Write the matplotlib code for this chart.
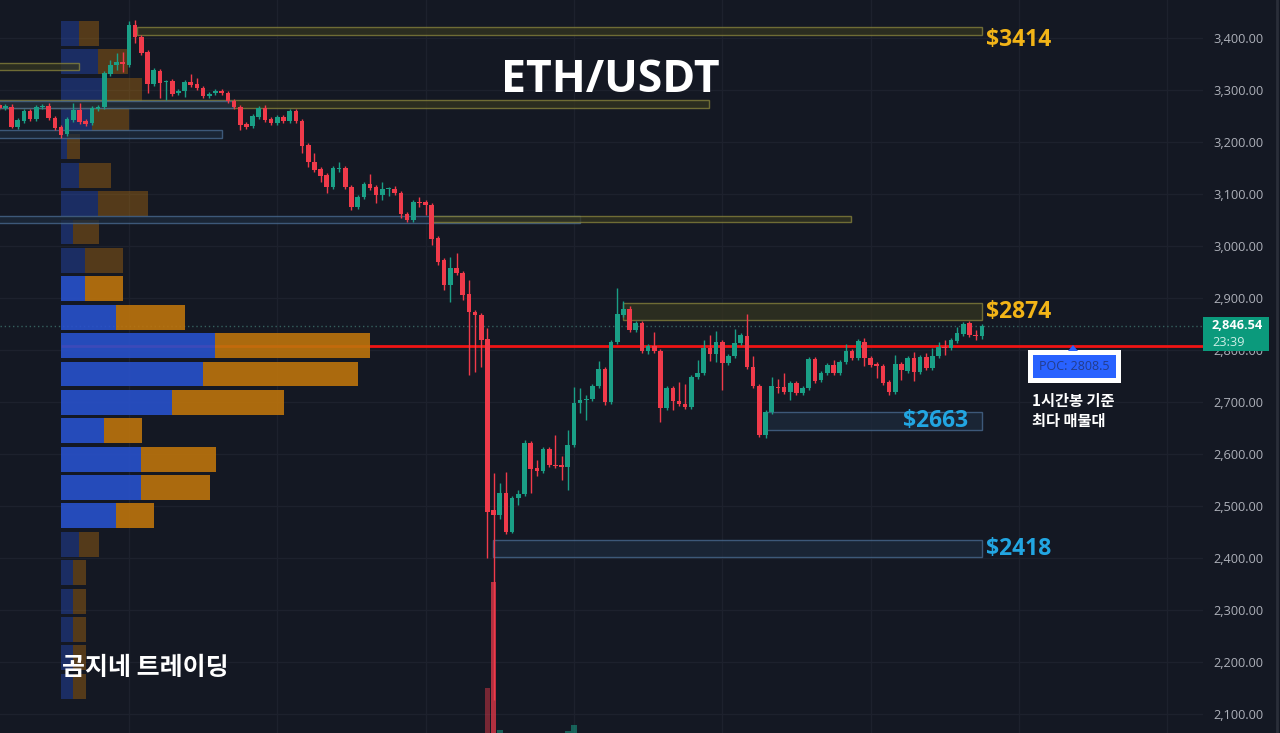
import numpy as np
import matplotlib
matplotlib.use("Agg")
import matplotlib.pyplot as plt
from matplotlib.patches import Rectangle, Polygon
from matplotlib.lines import Line2D

plt.rcParams["font.family"] = ["Open Sans", "Noto Sans CJK KR", "DejaVu Sans"]

# ---------------------------------------------------------------- data
# ETH/USDT, 1h candles (open, high, low, close)
opens = [3271, 3266, 3267, 3229, 3240, 3260, 3244, 3267, 3269, 3246,
         3229, 3215, 3242, 3261, 3240, 3236, 3263, 3267, 3331, 3348,
         3354, 3348, 3425, 3402, 3373, 3312, 3337, 3315, 3317, 3294,
         3298, 3315, 3312, 3304, 3288, 3294, 3298, 3294, 3279, 3267,
         3235, 3231, 3248, 3265, 3244, 3236, 3248, 3240, 3260, 3240,
         3194, 3162, 3148, 3137, 3113, 3148, 3150, 3113, 3075, 3094,
         3119, 3113, 3098, 3109, 3110, 3102, 3061, 3050, 3085, 3085,
         3079, 3015, 2973, 2925, 2958, 2948, 2908, 2873, 2867, 2821,
         2492, 2483, 2525, 2450, 2515, 2523, 2621, 2573, 2567, 2610,
         2579, 2578, 2575, 2617, 2698, 2704, 2706, 2731, 2764, 2700,
         2815, 2867, 2879, 2838, 2852, 2798, 2808, 2798, 2688, 2727,
         2702, 2696, 2690, 2748, 2756, 2804, 2792, 2815, 2775, 2788,
         2813, 2827, 2767, 2731, 2637, 2681, 2729, 2729, 2719, 2737,
         2717, 2727, 2783, 2742, 2756, 2771, 2756, 2777, 2798, 2785,
         2815, 2785, 2773, 2769, 2738, 2719, 2773, 2759, 2785, 2758,
         2787, 2765, 2788, 2806, 2804, 2817, 2831, 2852, 2829, 2826]
highs = [3275, 3273, 3273, 3246, 3264, 3263, 3271, 3273, 3275, 3250,
         3233, 3248, 3275, 3275, 3244, 3269, 3271, 3336, 3358, 3371,
         3373, 3433, 3435, 3406, 3377, 3343, 3341, 3320, 3321, 3302,
         3319, 3331, 3323, 3308, 3296, 3302, 3302, 3298, 3283, 3271,
         3239, 3254, 3269, 3271, 3248, 3252, 3252, 3264, 3264, 3244,
         3198, 3179, 3152, 3141, 3154, 3161, 3154, 3117, 3098, 3123,
         3138, 3117, 3123, 3113, 3115, 3106, 3065, 3089, 3094, 3089,
         3083, 3019, 2977, 2979, 2987, 2952, 2935, 2877, 2871, 2842,
         2564, 2544, 2565, 2519, 2530, 2627, 2625, 2588, 2614, 2614,
         2637, 2596, 2646, 2729, 2727, 2714, 2735, 2779, 2768, 2819,
         2919, 2894, 2884, 2856, 2856, 2812, 2835, 2802, 2731, 2731,
         2738, 2734, 2752, 2780, 2820, 2829, 2836, 2819, 2792, 2840,
         2833, 2869, 2788, 2735, 2685, 2748, 2744, 2756, 2741, 2741,
         2731, 2787, 2787, 2760, 2775, 2781, 2781, 2811, 2802, 2821,
         2823, 2789, 2777, 2773, 2742, 2790, 2777, 2789, 2796, 2791,
         2794, 2804, 2816, 2819, 2823, 2844, 2854, 2856, 2838, 2850]
lows = [3262, 3261, 3227, 3225, 3237, 3240, 3240, 3263, 3242, 3223,
        3208, 3211, 3238, 3234, 3230, 3232, 3260, 3263, 3327, 3338,
        3335, 3344, 3390, 3367, 3294, 3308, 3285, 3281, 3288, 3290,
        3286, 3306, 3300, 3284, 3285, 3290, 3290, 3275, 3263, 3223,
        3225, 3227, 3244, 3238, 3232, 3232, 3236, 3236, 3236, 3179,
        3152, 3142, 3123, 3102, 3109, 3142, 3109, 3069, 3071, 3090,
        3107, 3082, 3088, 3096, 3098, 3054, 3046, 3046, 3075, 3060,
        3002, 2963, 2915, 2892, 2944, 2896, 2752, 2758, 2767, 2400,
        2127, 2475, 2446, 2448, 2502, 2519, 2525, 2558, 2563, 2575,
        2573, 2550, 2530, 2613, 2679, 2665, 2702, 2727, 2694, 2696,
        2811, 2863, 2834, 2834, 2794, 2792, 2794, 2661, 2684, 2685,
        2692, 2686, 2686, 2744, 2752, 2779, 2777, 2723, 2771, 2784,
        2809, 2763, 2727, 2633, 2631, 2677, 2717, 2715, 2704, 2713,
        2713, 2723, 2736, 2738, 2752, 2752, 2752, 2773, 2781, 2781,
        2769, 2767, 2746, 2732, 2713, 2715, 2742, 2755, 2740, 2754,
        2761, 2761, 2784, 2790, 2800, 2813, 2827, 2825, 2819, 2822]
closes = [3265, 3268, 3229, 3242, 3260, 3244, 3267, 3269, 3246, 3227,
          3213, 3244, 3261, 3238, 3235, 3265, 3267, 3333, 3348, 3354,
          3350, 3425, 3402, 3371, 3312, 3339, 3314, 3317, 3292, 3298,
          3315, 3310, 3304, 3288, 3292, 3298, 3294, 3279, 3267, 3233,
          3229, 3250, 3265, 3242, 3236, 3248, 3240, 3260, 3240, 3192,
          3162, 3146, 3135, 3113, 3150, 3150, 3113, 3075, 3094, 3119,
          3111, 3098, 3110, 3110, 3102, 3061, 3050, 3085, 3083, 3079,
          3013, 2969, 2925, 2958, 2948, 2906, 2873, 2867, 2819, 2488,
          2483, 2525, 2450, 2515, 2523, 2621, 2571, 2567, 2610, 2579,
          2576, 2575, 2617, 2698, 2704, 2706, 2731, 2764, 2700, 2815,
          2869, 2879, 2838, 2852, 2798, 2808, 2798, 2688, 2727, 2702,
          2696, 2690, 2748, 2756, 2804, 2792, 2815, 2775, 2788, 2813,
          2829, 2767, 2731, 2637, 2681, 2731, 2727, 2719, 2737, 2717,
          2727, 2783, 2740, 2756, 2771, 2756, 2777, 2798, 2785, 2817,
          2785, 2771, 2769, 2736, 2719, 2773, 2761, 2785, 2758, 2787,
          2765, 2788, 2806, 2804, 2819, 2832, 2850, 2829, 2826, 2846.54]

# volume bars tall enough to reach into the price pane
vol_index = [79, 80, 81, 92, 93]
vol_value = [72, 178, 30, 29, 35]

# visible-range volume profile (top row = highest price), buy / sell
profile_buy = [18, 37, 46, 31, 6, 18, 37, 12, 24, 24, 55, 154,
               142, 111, 43, 80, 80, 55, 18, 12, 12, 12, 12, 12]
profile_sell = [20, 30, 35, 37, 13, 32, 50, 26, 38, 38, 69, 155,
                155, 112, 38, 75, 69, 38, 20, 13, 13, 13, 13, 13]
poc_price = 2808.5
row_step = 54.6
va_high, va_low = 2930, 2465

last_price = 2846.54
countdown = "23:39"

# supply (yellow) / demand (blue) zones: low, high, first bar, last bar
zones = [
    dict(lo=3406, hi=3422, x0=22.3, x1=159, kind="sell", label="$3414"),
    dict(lo=3339, hi=3352, x0=-3, x1=12.9, kind="sell", label=None),
    dict(lo=3265, hi=3281, x0=-3, x1=114.9, kind="sell", label=None),
    dict(lo=3266, hi=3279, x0=-3, x1=37.8, kind="buy", label=None),
    dict(lo=3208, hi=3223, x0=-3, x1=36.0, kind="buy", label=None),
    dict(lo=3044, hi=3058, x0=-3, x1=94.0, kind="buy", label=None),
    dict(lo=3046, hi=3058, x0=70.0, x1=137.8, kind="sell", label=None),
    dict(lo=2857, hi=2891, x0=100.9, x1=159, kind="sell", label="$2874"),
    dict(lo=2646, hi=2680, x0=124.1, x1=159, kind="buy", label="$2663"),
    dict(lo=2401, hi=2435, x0=79.9, x1=159, kind="buy", label="$2418"),
]

price_ticks = list(range(2100, 3401, 100))
session_starts = [21, 45, 69, 93, 117, 141, 165, 189]

# ---------------------------------------------------------------- style
BG = "#141823"
GRID = "#1d212d"
UP = "#1a9f86"
DOWN = "#f03a4a"
PROF_BLUE = "#2851cc"
PROF_ORANGE = "#bd740c"
SELL_EDGE = "#8a863c"
SELL_FILL = "#34351f"
BUY_EDGE = "#4a6d94"
BUY_FILL = "#1d2a3c"
GOLD = "#f2b417"
SKY = "#22a6e2"

W, H = 1280, 733
BAR_PX = 6.18          # horizontal distance between candles
FIRST_PX = -0.8        # centre of the first candle
CHART_R = 1203         # left edge of the price scale
Y_TOP, Y_BOT = 3473.1, 2063.4


def fx(px):
    return px / W


def fy(py):
    return 1 - py / H


def px_to_idx(px):
    return (px - FIRST_PX) / BAR_PX


xlim = (px_to_idx(0), px_to_idx(CHART_R))

fig = plt.figure(figsize=(12.8, 7.33), dpi=100, facecolor=BG)

# grid / reference lines at the very back
gax = fig.add_axes([0, 0, fx(CHART_R), 1])
gax.set_facecolor(BG)
gax.set_xlim(*xlim)
gax.set_ylim(Y_BOT, Y_TOP)
for p in price_ticks:
    gax.axhline(p, color=GRID, lw=1, zorder=0)
for s in session_starts:
    gax.axvline(s, color=GRID, lw=1, zorder=0)
gax.hlines(last_price, xlim[0], xlim[1], colors="#35605e", lw=1,
           linestyles=(0, (1, 2)), zorder=1)
gax.axis("off")

# volume profile
pax = fig.add_axes([fx(61), 0, fx(309), 1])
pax.set_facecolor("none")
pax.set_ylim(Y_BOT, Y_TOP)
pax.set_xlim(0, max(b + s for b, s in zip(profile_buy, profile_sell)))
n_rows = len(profile_buy)
levels = poc_price + row_step * (np.arange(n_rows)[::-1] - (n_rows - 1 - 11))
for lvl, b, s in zip(levels, profile_buy, profile_sell):
    inside = va_low <= lvl <= va_high
    a = 0.9 if inside else 0.38
    pax.barh(lvl, b, height=row_step * 0.875, color=PROF_BLUE, alpha=a, lw=0)
    pax.barh(lvl, s, left=b, height=row_step * 0.875, color=PROF_ORANGE,
             alpha=a, lw=0)
pax.axis("off")

# POC line sits under the profile bars
gax.hlines(poc_price, px_to_idx(61), xlim[1], colors="#f01414", lw=2, zorder=2)
pax.set_zorder(1)
gax.set_zorder(0)

# volume histogram (only the tallest bars reach into view)
vax = fig.add_axes([0, -27 / H, fx(CHART_R), 200 / H])
vax.set_facecolor("none")
vax.set_xlim(*xlim)
vax.set_ylim(0, 200)
vcols = []
for i in vol_index:
    vcols.append(UP if closes[i] >= opens[i] else DOWN)
valphas = [0.45, 0.72, 0.55, 0.55, 0.55]
for i, v, c, a in zip(vol_index, vol_value, vcols, valphas):
    vax.bar(i, v, width=0.92, color=c, alpha=a, lw=0)
vax.axis("off")
vax.set_zorder(2)

# main price pane
ax = fig.add_axes([0, 0, fx(CHART_R), 1])
ax.set_facecolor("none")
ax.set_zorder(3)
ax.set_xlim(*xlim)
ax.set_ylim(Y_BOT, Y_TOP)

label_shift = {"$3414": -9}
for z in zones:
    sell = z["kind"] == "sell"
    ax.add_patch(Rectangle((z["x0"], z["lo"]), z["x1"] - z["x0"],
                           z["hi"] - z["lo"],
                           facecolor=SELL_FILL if sell else BUY_FILL,
                           edgecolor=SELL_EDGE if sell else BUY_EDGE,
                           alpha=0.75, lw=1, zorder=1))
    if z["label"]:
        mid = (z["lo"] + z["hi"]) / 2
        inside = z["label"] == "$2663"
        ax.annotate(z["label"], (z["x1"], mid),
                    xytext=(-10 if inside else 3,
                            label_shift.get(z["label"], 0) * 0.72),
                    textcoords="offset points",
                    ha="right" if inside else "left", va="center",
                    fontsize=16.5, fontweight="bold",
                    color=GOLD if sell else SKY, zorder=4)

o = np.array(opens, float)
h = np.array(highs, float)
l = np.array(lows, float)
c = np.array(closes, float)
idx = np.arange(len(o))
cols = np.where(c >= o, UP, DOWN)
ax.vlines(idx, l, h, colors=cols, lw=1, zorder=2)
ax.bar(idx, np.maximum(np.abs(c - o), 2.5), bottom=np.minimum(o, c),
       width=0.75, color=cols, lw=0, zorder=3)

ax.set_xticks([])
ax.set_yticks(price_ticks)
ax.set_yticklabels([f"{p:,.2f}" for p in price_ticks])
ax.yaxis.tick_right()
ax.tick_params(axis="y", length=0, pad=7.5, labelsize=9.2,
               labelcolor="#adb0b9")
for sp in ax.spines.values():
    sp.set_visible(False)

# right edge of the price scale
fig.add_artist(Line2D([fx(1277), fx(1277)], [0, 1], color="#2a2e39", lw=2))

# last price tag
fig.add_artist(Rectangle((fx(1203), fy(351)), fx(66), 34 / H,
                         facecolor="#0b9a7c", edgecolor="none", zorder=5))
fig.text(fx(1212), fy(326), f"{last_price:,.2f}", ha="left", va="center",
         fontsize=9.2, fontweight="bold", color="white", zorder=6)
fig.text(fx(1212), fy(342), countdown, ha="left", va="center",
         fontsize=9.2, color="#cdeee6", zorder=6)

# POC tag under the line
fig.add_artist(Rectangle((fx(1028), fy(383)), fx(93), 33 / H,
                         facecolor="white", edgecolor="none", zorder=5))
fig.add_artist(Rectangle((fx(1033), fy(378)), fx(83), 23 / H,
                         facecolor="#2962ff", edgecolor="none", zorder=6))
fig.add_artist(Polygon([[fx(1068), fy(351)], [fx(1078), fy(351)],
                        [fx(1073), fy(345)]], closed=True,
                       facecolor="#2962ff", edgecolor="none", zorder=6))
fig.text(fx(1074.5), fy(367), f"POC: {poc_price}", ha="center", va="center",
         fontsize=9, color="#233c8c", zorder=7)

fig.text(fx(1032), fy(401), "1시간봉 기준", ha="left", va="center",
         fontsize=11, fontweight="bold", color="white",
         family=["Noto Sans CJK KR", "DejaVu Sans"])
fig.text(fx(1032), fy(421), "최다 매물대", ha="left", va="center",
         fontsize=11, fontweight="bold", color="white",
         family=["Noto Sans CJK KR", "DejaVu Sans"])

fig.text(fx(610), fy(81), "ETH/USDT", ha="center", va="center",
         fontsize=32, fontweight="bold", color="white", zorder=6)
fig.text(fx(62), fy(668), "곰지네 트레이딩", ha="left", va="center",
         fontsize=18, fontweight="bold", color="white", zorder=6,
         family=["Noto Sans CJK KR", "DejaVu Sans"])

fig.savefig("out.png", dpi=100, facecolor=BG)
